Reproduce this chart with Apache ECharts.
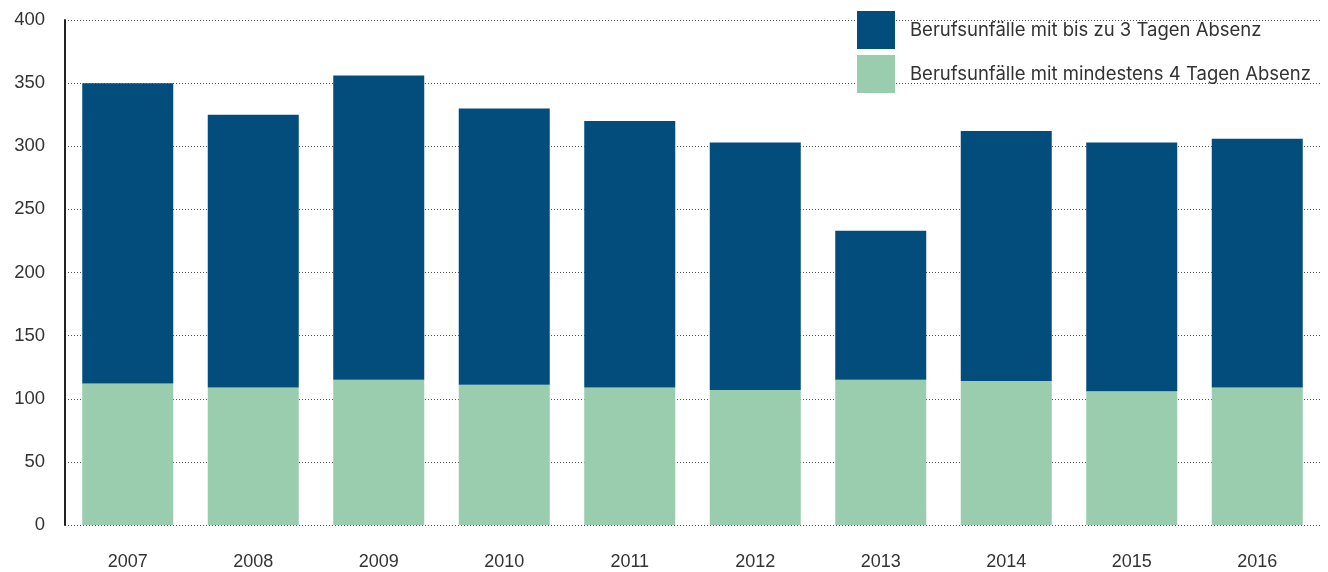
<!DOCTYPE html>
<html>
<head>
<meta charset="utf-8">
<script src="https://cdn.jsdelivr.net/npm/echarts@6/dist/echarts.min.js"></script>
<style>
  html, body { margin: 0; padding: 0; background: #fff; }
  #chart { width: 1328px; height: 572px; }
</style>
</head>
<body>
<div id="chart"></div>
<script>
  // Jahre und Werte
  var years = ['2007', '2008', '2009', '2010', '2011', '2012', '2013', '2014', '2015', '2016'];
  var mind4Tage = [112, 109, 115, 111, 109, 107, 115, 114, 106, 109];
  var bis3Tage = [238, 216, 241, 219, 211, 196, 118, 198, 197, 197];
  var yTicks = { min: 0, max: 400, interval: 50 };

  var nameBis3 = 'Berufsunfälle mit bis zu 3 Tagen Absenz';
  var nameMind4 = 'Berufsunfälle mit mindestens 4 Tagen Absenz';

  var chart = echarts.init(document.getElementById('chart'));
  chart.setOption({
    animation: false,
    textStyle: { fontFamily: '"Liberation Sans", Arial, sans-serif' },
    legend: {
      orient: 'vertical',
      left: 857,
      top: 11,
      padding: 0,
      itemWidth: 38,
      itemHeight: 38,
      itemGap: 6,
      icon: 'rect',
      data: [nameBis3, nameMind4],
      textStyle: {
        fontFamily: 'Inter, "Noto Sans", sans-serif',
        fontSize: 18.5, color: '#333', padding: [0, 0, 0, 10]
      }
    },
    grid: { left: 65, right: 8, top: 20, bottom: 47 },
    xAxis: {
      type: 'category',
      data: years,
      axisLine: { show: false },
      axisTick: { show: false },
      axisLabel: { fontSize: 18, color: '#333', margin: 28 }
    },
    yAxis: {
      type: 'value',
      min: yTicks.min,
      max: yTicks.max,
      interval: yTicks.interval,
      axisLine: { show: true, lineStyle: { color: '#222', width: 2 } },
      axisTick: { show: false },
      axisLabel: { fontSize: 18.5, color: '#333', margin: 20 },
      splitLine: { lineStyle: { color: '#555', type: [1, 2], width: 1 } }
    },
    series: [
      {
        name: nameMind4,
        type: 'bar',
        stack: 'total',
        barWidth: 91,
        itemStyle: { color: '#99cdae' },
        data: mind4Tage
      },
      {
        name: nameBis3,
        type: 'bar',
        stack: 'total',
        barWidth: 91,
        itemStyle: { color: '#024d7c' },
        data: bis3Tage
      }
    ]
  });
</script>
</body>
</html>
